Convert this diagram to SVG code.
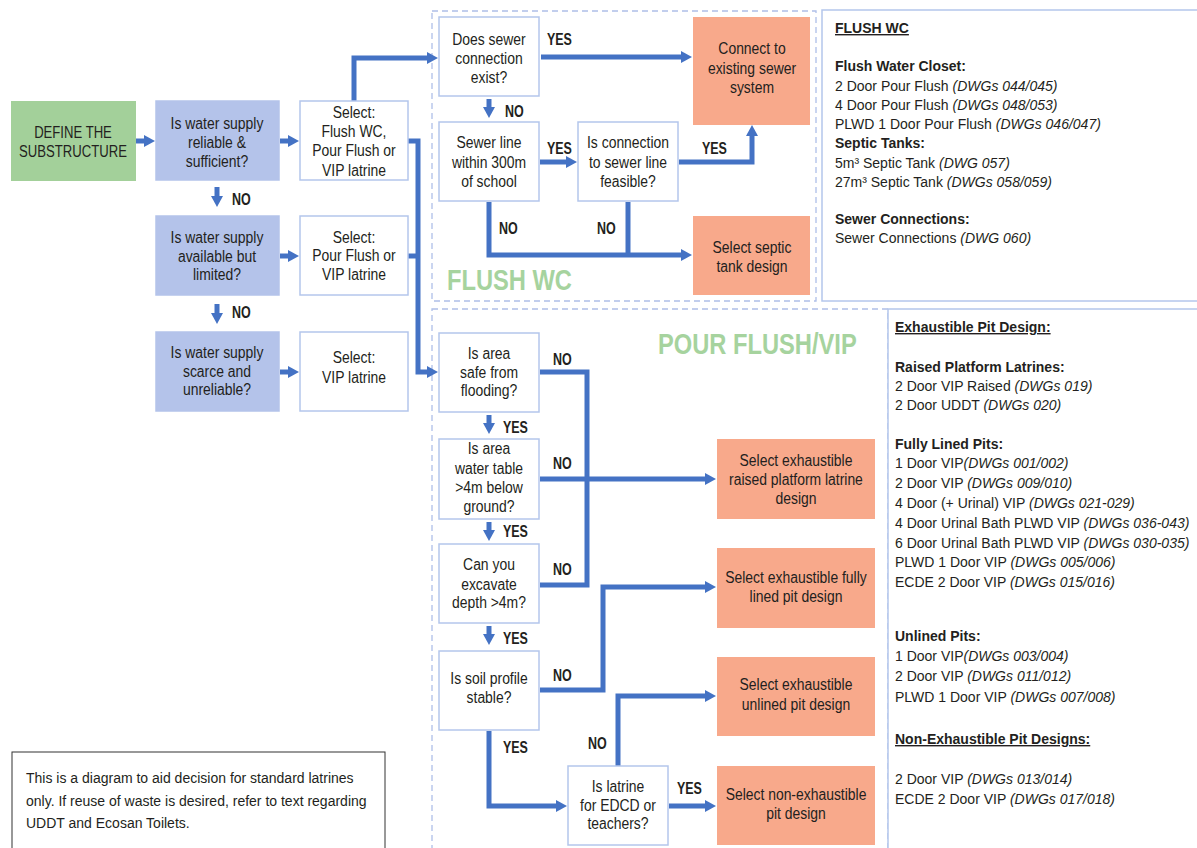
<svg xmlns="http://www.w3.org/2000/svg" width="1197" height="848" viewBox="0 0 1197 848">
<style>
text{font-family:"Liberation Sans",Arial,sans-serif;fill:#231f20}
.t{font-size:16px;text-anchor:middle}
.lb{font-size:16px;font-weight:bold}
.p{font-size:14px}
.pb{font-size:14px;font-weight:bold}
.i{font-style:italic}
.u{text-decoration:underline}
.q{fill:#b4c3ea;stroke:#b4c3ea;stroke-width:1.5}
.w{fill:#fff;stroke:#b4c6ec;stroke-width:1.5}
.o{fill:#f8a98b}
.g{fill:#a3d09a}
.big{font-size:30px;font-weight:bold;fill:#a6d39e}
.c{fill:none;stroke:#4472c4;stroke-width:5}
.dash{fill:none;stroke:#aebfe8;stroke-width:1.3;stroke-dasharray:6 4}
.pan{fill:#fff;stroke:#b4c6ec;stroke-width:1.5}
</style>
<defs>
<marker id="a" viewBox="0 0 11 12" refX="0" refY="6" markerWidth="11" markerHeight="12" markerUnits="userSpaceOnUse" orient="auto">
<path d="M0,0 L11,6 L0,12 z" fill="#4472c4"/>
</marker>
</defs>
<rect width="1197" height="848" fill="#fff"/>

<g id="regions">
<rect class="dash" x="432" y="11" width="384" height="290"/>
<rect class="dash" x="432" y="309" width="456" height="545"/>
<rect class="pan" x="822" y="10" width="400" height="291"/>
<rect class="pan" x="888" y="309" width="320" height="545"/>
<text class="big" x="447" y="290" transform="matrix(0.79 0 0 1 93.87 0)">FLUSH WC</text>
<text class="big" x="658" y="354" transform="matrix(0.79 0 0 1 138.18 0)">POUR FLUSH/VIP</text>
</g>

<g id="connectors">
<path class="c" d="M136,141 H144" marker-end="url(#a)"/>
<path class="c" d="M280,141 H288" marker-end="url(#a)"/>
<path class="c" d="M280,256 H288" marker-end="url(#a)"/>
<path class="c" d="M280,372 H288" marker-end="url(#a)"/>
<path class="c" d="M217,187 V196" marker-end="url(#a)"/>
<path class="c" d="M217,304 V313" marker-end="url(#a)"/>
<path class="c" d="M354,101 V58 H427" marker-end="url(#a)"/>
<path class="c" d="M408,141 H418 V372 H427" marker-end="url(#a)"/>
<path class="c" d="M408,256 H418"/>
<path class="c" d="M541,57 H681" marker-end="url(#a)"/>
<path class="c" d="M489,99 V107" marker-end="url(#a)"/>
<path class="c" d="M540,162 H566" marker-end="url(#a)"/>
<path class="c" d="M679,162 H752 V136" marker-end="url(#a)"/>
<path class="c" d="M489,202 V255 H681" marker-end="url(#a)"/>
<path class="c" d="M628,202 V255"/>
<path class="c" d="M540,372 H587 V585 H540"/>
<path class="c" d="M540,479 H705" marker-end="url(#a)"/>
<path class="c" d="M489,415 V423" marker-end="url(#a)"/>
<path class="c" d="M489,522 V530" marker-end="url(#a)"/>
<path class="c" d="M489,626 V634" marker-end="url(#a)"/>
<path class="c" d="M540,690 H603 V587 H705" marker-end="url(#a)"/>
<path class="c" d="M489,731 V806 H556" marker-end="url(#a)"/>
<path class="c" d="M618,766 V696 H705" marker-end="url(#a)"/>
<path class="c" d="M669,806 H705" marker-end="url(#a)"/>
</g>

<g id="labels">
<text class="lb" x="232" y="205" transform="matrix(0.78 0 0 1 51.04 0)">NO</text>
<text class="lb" x="232" y="318" transform="matrix(0.78 0 0 1 51.04 0)">NO</text>
<text class="lb" x="547" y="45" transform="matrix(0.78 0 0 1 120.34 0)">YES</text>
<text class="lb" x="505" y="117" transform="matrix(0.78 0 0 1 111.1 0)">NO</text>
<text class="lb" x="547" y="154" transform="matrix(0.78 0 0 1 120.34 0)">YES</text>
<text class="lb" x="702" y="154" transform="matrix(0.78 0 0 1 154.44 0)">YES</text>
<text class="lb" x="499" y="234" transform="matrix(0.78 0 0 1 109.78 0)">NO</text>
<text class="lb" x="597" y="234" transform="matrix(0.78 0 0 1 131.34 0)">NO</text>
<text class="lb" x="553" y="365" transform="matrix(0.78 0 0 1 121.66 0)">NO</text>
<text class="lb" x="503" y="433" transform="matrix(0.78 0 0 1 110.66 0)">YES</text>
<text class="lb" x="553" y="469" transform="matrix(0.78 0 0 1 121.66 0)">NO</text>
<text class="lb" x="503" y="537" transform="matrix(0.78 0 0 1 110.66 0)">YES</text>
<text class="lb" x="553" y="575" transform="matrix(0.78 0 0 1 121.66 0)">NO</text>
<text class="lb" x="503" y="644" transform="matrix(0.78 0 0 1 110.66 0)">YES</text>
<text class="lb" x="553" y="681" transform="matrix(0.78 0 0 1 121.66 0)">NO</text>
<text class="lb" x="503" y="753" transform="matrix(0.78 0 0 1 110.66 0)">YES</text>
<text class="lb" x="588" y="749" transform="matrix(0.78 0 0 1 129.36 0)">NO</text>
<text class="lb" x="677" y="794" transform="matrix(0.78 0 0 1 148.94 0)">YES</text>
</g>

<g id="define">
<rect class="g" x="11" y="101" width="125" height="80"/>
<g transform="matrix(0.82 0 0 1 13.14 0)">
<text class="t" x="73" y="138">DEFINE THE</text>
<text class="t" x="73" y="157">SUBSTRUCTURE</text>
</g>
</g>
<g id="q1">
<rect class="q" x="156" y="101" width="123" height="79"/>
<g transform="matrix(0.87 0 0 1 28.21 0)">
<text class="t" x="217" y="129">Is water supply</text>
<text class="t" x="217" y="148">reliable &amp;</text>
<text class="t" x="217" y="167">sufficient?</text>
</g>
</g>
<g id="q2">
<rect class="q" x="156" y="216" width="123" height="79"/>
<g transform="matrix(0.87 0 0 1 28.21 0)">
<text class="t" x="217" y="243">Is water supply</text>
<text class="t" x="217" y="262">available but</text>
<text class="t" x="217" y="280">limited?</text>
</g>
</g>
<g id="q3">
<rect class="q" x="156" y="332" width="123" height="79"/>
<g transform="matrix(0.87 0 0 1 28.21 0)">
<text class="t" x="217" y="358">Is water supply</text>
<text class="t" x="217" y="377">scarce and</text>
<text class="t" x="217" y="395">unreliable?</text>
</g>
</g>
<g id="s1">
<rect class="w" x="300" y="101" width="108" height="79"/>
<g transform="matrix(0.87 0 0 1 46.02 0)">
<text class="t" x="354" y="118">Select:</text>
<text class="t" x="354" y="137">Flush WC,</text>
<text class="t" x="354" y="156">Pour Flush or</text>
<text class="t" x="354" y="176">VIP latrine</text>
</g>
</g>
<g id="s2">
<rect class="w" x="300" y="216" width="108" height="79"/>
<g transform="matrix(0.87 0 0 1 46.02 0)">
<text class="t" x="354" y="243">Select:</text>
<text class="t" x="354" y="261">Pour Flush or</text>
<text class="t" x="354" y="280">VIP latrine</text>
</g>
</g>
<g id="s3">
<rect class="w" x="300" y="332" width="108" height="79"/>
<g transform="matrix(0.87 0 0 1 46.02 0)">
<text class="t" x="354" y="363">Select:</text>
<text class="t" x="354" y="383">VIP latrine</text>
</g>
</g>

<g id="sewer-exist">
<rect class="w" x="439" y="17" width="100" height="79"/>
<g transform="matrix(0.87 0 0 1 63.57 0)">
<text class="t" x="489" y="45">Does sewer</text>
<text class="t" x="489" y="64">connection</text>
<text class="t" x="489" y="83">exist?</text>
</g>
</g>
<g id="connect">
<rect class="o" x="693" y="17" width="117" height="108"/>
<g transform="matrix(0.87 0 0 1 97.76 0)">
<text class="t" x="752" y="54">Connect to</text>
<text class="t" x="752" y="74">existing sewer</text>
<text class="t" x="752" y="93">system</text>
</g>
</g>
<g id="sewer-line">
<rect class="w" x="439" y="122" width="100" height="79"/>
<g transform="matrix(0.87 0 0 1 63.57 0)">
<text class="t" x="489" y="148">Sewer line</text>
<text class="t" x="489" y="168">within 300m</text>
<text class="t" x="489" y="187">of school</text>
</g>
</g>
<g id="feasible">
<rect class="w" x="578" y="122" width="100" height="79"/>
<g transform="matrix(0.87 0 0 1 81.64 0)">
<text class="t" x="628" y="148">Is connection</text>
<text class="t" x="628" y="168">to sewer line</text>
<text class="t" x="628" y="187">feasible?</text>
</g>
</g>
<g id="septic">
<rect class="o" x="693" y="216" width="117" height="79"/>
<g transform="matrix(0.87 0 0 1 97.76 0)">
<text class="t" x="752" y="253">Select septic</text>
<text class="t" x="752" y="272">tank design</text>
</g>
</g>

<g id="flood">
<rect class="w" x="439" y="333" width="100" height="79"/>
<g transform="matrix(0.87 0 0 1 63.57 0)">
<text class="t" x="489" y="359">Is area</text>
<text class="t" x="489" y="378">safe from</text>
<text class="t" x="489" y="396">flooding?</text>
</g>
</g>
<g id="watertable">
<rect class="w" x="439" y="439" width="100" height="80"/>
<g transform="matrix(0.87 0 0 1 63.57 0)">
<text class="t" x="489" y="454">Is area</text>
<text class="t" x="489" y="474">water table</text>
<text class="t" x="489" y="493">&gt;4m below</text>
<text class="t" x="489" y="512">ground?</text>
</g>
</g>
<g id="excavate">
<rect class="w" x="439" y="544" width="100" height="79"/>
<g transform="matrix(0.87 0 0 1 63.57 0)">
<text class="t" x="489" y="570">Can you</text>
<text class="t" x="489" y="590">excavate</text>
<text class="t" x="489" y="608">depth &gt;4m?</text>
</g>
</g>
<g id="soil">
<rect class="w" x="439" y="651" width="100" height="79"/>
<g transform="matrix(0.87 0 0 1 63.57 0)">
<text class="t" x="489" y="684">Is soil profile</text>
<text class="t" x="489" y="703">stable?</text>
</g>
</g>
<g id="edcd">
<rect class="w" x="568" y="766" width="100" height="79"/>
<g transform="matrix(0.87 0 0 1 80.34 0)">
<text class="t" x="618" y="792">Is latrine</text>
<text class="t" x="618" y="811">for EDCD or</text>
<text class="t" x="618" y="829">teachers?</text>
</g>
</g>
<g id="raised">
<rect class="o" x="717" y="439" width="158" height="80"/>
<g transform="matrix(0.87 0 0 1 103.48 0)">
<text class="t" x="796" y="466">Select exhaustible</text>
<text class="t" x="796" y="485">raised platform latrine</text>
<text class="t" x="796" y="504">design</text>
</g>
</g>
<g id="fully">
<rect class="o" x="717" y="548" width="158" height="80"/>
<g transform="matrix(0.87 0 0 1 103.48 0)">
<text class="t" x="796" y="583">Select exhaustible fully</text>
<text class="t" x="796" y="602">lined pit design</text>
</g>
</g>
<g id="unlined">
<rect class="o" x="717" y="657" width="158" height="79"/>
<g transform="matrix(0.87 0 0 1 103.48 0)">
<text class="t" x="796" y="690">Select exhaustible</text>
<text class="t" x="796" y="710">unlined pit design</text>
</g>
</g>
<g id="nonexh">
<rect class="o" x="717" y="766" width="158" height="79"/>
<g transform="matrix(0.87 0 0 1 103.48 0)">
<text class="t" x="796" y="800">Select non-exhaustible</text>
<text class="t" x="796" y="819">pit design</text>
</g>
</g>

<g id="flush-list">
<text class="pb u" x="835" y="33">FLUSH WC</text>
<text class="pb" x="835" y="71">Flush Water Closet:</text>
<text class="p" x="835" y="91">2 Door Pour Flush <tspan class="i">(DWGs 044/045)</tspan></text>
<text class="p" x="835" y="110">4 Door Pour Flush <tspan class="i">(DWGs 048/053)</tspan></text>
<text class="p" x="835" y="129">PLWD 1 Door Pour Flush <tspan class="i">(DWGs 046/047)</tspan></text>
<text class="pb" x="835" y="148">Septic Tanks:</text>
<text class="p" x="835" y="168">5m³ Septic Tank <tspan class="i">(DWG 057)</tspan></text>
<text class="p" x="835" y="187">27m³ Septic Tank <tspan class="i">(DWGs 058/059)</tspan></text>
<text class="pb" x="835" y="224">Sewer Connections:</text>
<text class="p" x="835" y="243">Sewer Connections <tspan class="i">(DWG 060)</tspan></text>
</g>

<g id="pit-list">
<text class="pb u" x="895" y="332">Exhaustible Pit Design:</text>
<text class="pb" x="895" y="372">Raised Platform Latrines:</text>
<text class="p" x="895" y="391">2 Door VIP Raised <tspan class="i">(DWGs 019)</tspan></text>
<text class="p" x="895" y="410">2 Door UDDT <tspan class="i">(DWGs 020)</tspan></text>
<text class="pb" x="895" y="449">Fully Lined Pits:</text>
<text class="p" x="895" y="468">1 Door VIP<tspan class="i">(DWGs 001/002)</tspan></text>
<text class="p" x="895" y="488">2 Door VIP <tspan class="i">(DWGs 009/010)</tspan></text>
<text class="p" x="895" y="508">4 Door (+ Urinal) VIP <tspan class="i">(DWGs 021-029)</tspan></text>
<text class="p" x="895" y="528">4 Door Urinal Bath PLWD VIP <tspan class="i">(DWGs 036-043)</tspan></text>
<text class="p" x="895" y="548">6 Door Urinal Bath PLWD VIP <tspan class="i">(DWGs 030-035)</tspan></text>
<text class="p" x="895" y="567">PLWD 1 Door VIP <tspan class="i">(DWGs 005/006)</tspan></text>
<text class="p" x="895" y="587">ECDE 2 Door VIP <tspan class="i">(DWGs 015/016)</tspan></text>
<text class="pb" x="895" y="641">Unlined Pits:</text>
<text class="p" x="895" y="661">1 Door VIP<tspan class="i">(DWGs 003/004)</tspan></text>
<text class="p" x="895" y="681">2 Door VIP <tspan class="i">(DWGs 011/012)</tspan></text>
<text class="p" x="895" y="702">PLWD 1 Door VIP <tspan class="i">(DWGs 007/008)</tspan></text>
<text class="pb u" x="895" y="744">Non-Exhaustible Pit Designs:</text>
<text class="p" x="895" y="784">2 Door VIP <tspan class="i">(DWGs 013/014)</tspan></text>
<text class="p" x="895" y="804">ECDE 2 Door VIP <tspan class="i">(DWGs 017/018)</tspan></text>
</g>

<g id="note">
<rect x="12" y="752" width="373" height="110" fill="#fff" stroke="#333" stroke-width="1"/>
<text class="p" x="26" y="783">This is a diagram to aid decision for standard latrines</text>
<text class="p" x="26" y="806">only. If reuse of waste is desired, refer to text regarding</text>
<text class="p" x="26" y="828">UDDT and Ecosan Toilets.</text>
</g>
</svg>
